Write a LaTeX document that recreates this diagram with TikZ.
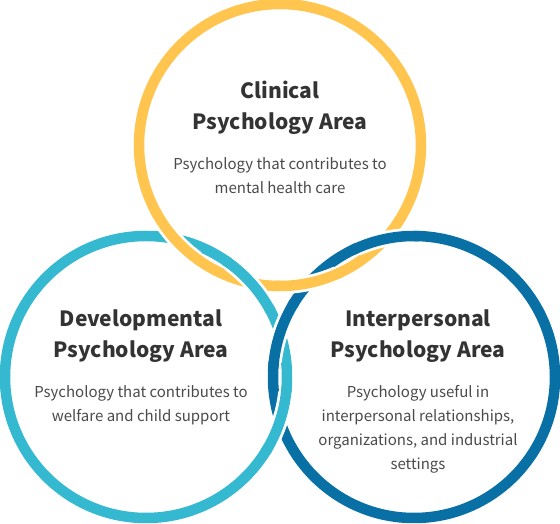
\documentclass[tikz,border=0pt]{standalone}
\usepackage{fontspec}
\setmainfont{Noto Sans CJK KR}
\definecolor{clinyellow}{HTML}{FFC54F}
\definecolor{devcyan}{HTML}{35B9D1}
\definecolor{interblue}{HTML}{0870A5}
\definecolor{titlegray}{HTML}{333333}
\definecolor{bodygray}{HTML}{4A4A4A}

\begin{document}
\begin{tikzpicture}[
    x=1pt,
    y=1pt,
    ring/.style={
        line width=10.5pt
    },
    gap/.style={
        white,
        line width=16pt
    },
    title/.style={
        font=\fontsize{21}{31}\selectfont\bfseries,
        text=titlegray,
        align=center,
        inner sep=0pt
    },
    body/.style={
        font=\fontsize{15}{24}\selectfont,
        text=bodygray,
        align=center,
        inner sep=0pt
    }
]
\useasboundingbox (0,0) rectangle (560,524);
\def\rad{141}

% Centres
\coordinate (clin) at (280,379);
\coordinate (dev) at (146,147);
\coordinate (inter) at (414,147);

% Rings
\draw [ring, clinyellow] (clin) circle [radius=\rad];
\draw [ring, devcyan] (dev) circle [radius=\rad];
\draw [ring, interblue] (inter) circle [radius=\rad];

% Crossings (ring on top)
\foreach \c/\col/\a in {clin/clinyellow/221.8, dev/devcyan/41.8, inter/interblue/101.9,
                        clin/clinyellow/281.9, inter/interblue/161.8, dev/devcyan/-18.2} {
    \draw [gap] (\c) ++(\a-12:\rad) arc [start angle=\a-12, end angle=\a+12, radius=\rad];
    \draw [ring, \col] (\c) ++(\a-14:\rad) arc [start angle=\a-14, end angle=\a+14, radius=\rad];
}

% Texts
\node [title] (clintitle) at (280,416) {Clinical\\Psychology Area};
\node [body] (clinbody) at (280,348) {Psychology that contributes to\\mental health care};

\node [title] (devtitle) at (141,188) {Developmental\\Psychology Area};
\node [body] (devbody) at (141,119) {Psychology that contributes to\\welfare and child support};

\node [title] (intertitle) at (418,188) {Interpersonal\\Psychology Area};
\node [body] (interbody) at (418,95) {Psychology useful in\\interpersonal relationships,\\organizations, and industrial\\settings};

\end{tikzpicture}
\end{document}
